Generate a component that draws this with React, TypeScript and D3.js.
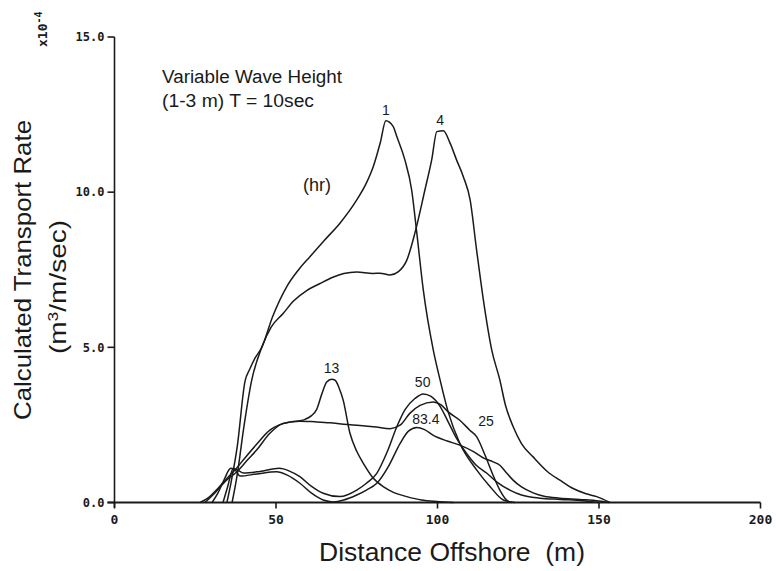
import React from "react";
import * as d3 from "d3";

// ---- data (distance offshore m, transport rate x1e-4 m3/m/sec) ----
const xTicks = [0, 50, 100, 150, 200];
const yTicks = [0, 5, 10, 15];
const yTickLabels = ["0.0", "5.0", "10.0", "15.0"];

const hr1: [number, number][] = [
  [34.8, 0], [36, 0.6], [38, 1.8], [40.4, 3.9], [41.9, 4.3], [43.5, 4.65], [45.6, 5.0],
  [49, 6.0], [53.3, 6.95], [57, 7.5], [60.5, 7.92], [65, 8.45], [69.8, 9.0], [75, 9.75],
  [78, 10.3], [80.1, 10.82], [82.3, 11.6], [84, 12.3], [86.3, 12.11], [87.4, 11.79],
  [89.9, 11.04], [92, 10.07], [93.6, 8.68], [95.6, 6.85], [98.7, 4.91], [100.8, 3.95],
  [103.3, 2.92], [106.9, 1.91], [112.1, 1.05], [116.3, 0.51], [120.4, 0.08], [124, 0],
];
const hr4: [number, number][] = [
  [36.4, 0], [38, 0.9], [40, 2.4], [42.5, 3.95], [45.6, 5.0], [48.5, 5.65], [52.2, 6.09],
  [55.5, 6.5], [59.5, 6.83], [63.5, 7.05], [67.6, 7.26], [71, 7.38], [75, 7.43], [80, 7.38],
  [82.2, 7.39], [85.3, 7.33], [87.9, 7.44], [90.5, 7.81], [93, 8.68], [96.1, 10.07],
  [98.2, 11.04], [99.8, 11.95], [101.8, 11.98], [103.9, 11.58], [105.9, 11.04], [108, 10.5],
  [110.1, 9.75], [112.1, 8.14], [114.2, 6.53], [116.8, 4.91], [119.3, 3.95], [121, 3.15],
  [123.4, 2.45], [126, 1.9], [129.6, 1.47], [134, 1.0], [137.9, 0.72], [142, 0.45],
  [146, 0.28], [149.3, 0.19], [153.4, 0],
];
const hr13: [number, number][] = [
  [26.5, 0], [29, 0.15], [32, 0.45], [35, 0.8], [37.3, 1.05], [40.5, 1.45], [43.8, 1.85],
  [48.1, 2.33], [51, 2.5], [54.3, 2.59], [57, 2.63], [59, 2.68], [61, 2.8], [62.6, 3.0],
  [64.2, 3.5], [65.7, 3.88], [67.2, 3.97], [68.3, 3.94], [69.5, 3.7], [70.8, 3.3],
  [72.9, 2.23], [75, 1.65], [77, 1.27], [80, 0.8], [83.2, 0.51], [86.5, 0.32], [90.5, 0.19],
  [95, 0.08], [99.8, 0.03], [105, 0],
];
const hr25: [number, number][] = [
  [28, 0], [31, 0.3], [34.5, 0.7], [38, 1.0], [41, 1.35], [44, 1.69], [48.1, 2.23],
  [52.3, 2.55], [57.4, 2.62], [62, 2.6], [66.7, 2.57], [71, 2.52], [76, 2.48], [81, 2.43],
  [85.3, 2.38], [88.4, 2.49], [91.5, 2.88], [94.6, 3.13], [98.7, 3.24], [101, 3.15],
  [103.3, 2.92], [106.9, 2.65], [110, 2.33], [112.1, 2.12], [114.7, 1.53], [117.2, 0.88],
  [119.3, 0.4], [121.4, 0.08], [123, 0],
];
const hr50: [number, number][] = [
  [30.2, 0], [32, 0.3], [34, 0.75], [36, 1.1], [38, 1.05], [40, 0.95], [45, 1.0], [51, 1.1],
  [54, 1.02], [57.4, 0.83], [61, 0.52], [64.6, 0.3], [69.8, 0.19], [75, 0.4], [78, 0.62],
  [81.2, 0.94], [84.5, 1.65], [87.4, 2.44], [90, 3.0], [93, 3.35], [95.6, 3.5], [98, 3.42],
  [100.8, 3.1], [103.3, 2.6], [106, 2.05], [109, 1.58], [112, 1.2], [115.2, 0.95],
  [118.5, 0.65], [122.4, 0.4], [126, 0.24], [131.7, 0.14], [138, 0.1], [145, 0.06], [150, 0],
];
const hr83: [number, number][] = [
  [33.6, 0], [35, 0.5], [36.8, 1.1], [38.9, 0.85], [44, 0.92], [50.2, 0.99], [53.5, 0.88],
  [57.4, 0.62], [61, 0.3], [64.6, 0.08], [67.7, 0.02], [71, 0.08], [75, 0.24], [78, 0.4],
  [81.2, 0.62], [85, 1.2], [88.4, 1.9], [91, 2.3], [93.6, 2.42], [96, 2.35], [98.6, 2.17],
  [103, 1.98], [106.9, 1.85], [111, 1.65], [114.5, 1.42], [117.2, 1.31], [119.3, 1.2],
  [121, 1.0], [123.4, 0.72], [126, 0.5], [129.6, 0.31], [133, 0.2], [137.9, 0.14],
  [144, 0.1], [150, 0.05], [153, 0],
];
const seriesList = [hr1, hr4, hr13, hr25, hr50, hr83];

const curveLabels = ["1", "4", "13", "50", "83.4", "25"];
const curveLabelX = [84, 100.8, 67.2, 95.4, 96.4, 115];
const curveLabelY = [12.49, 12.17, 4.17, 3.71, 2.53, 2.45];

export default function App() {
  const x = d3.scaleLinear().domain([0, 200]).range([114.5, 760.5]);
  const y = d3.scaleLinear().domain([0, 15]).range([502.5, 37]);
  const line = d3
    .line<[number, number]>()
    .x((d) => x(d[0]))
    .y((d) => y(d[1]))
    .curve(d3.curveMonotoneX);

  const ink = "#1a1a1a";
  const tickFont = "'DejaVu Sans Mono', monospace";
  const textFont = "'Liberation Sans', Arial, sans-serif";

  return (
    <svg
      width={776}
      height={571}
      style={{ position: "absolute", left: 0, top: 0, background: "#fff" }}
    >
      <rect x={0} y={0} width={776} height={571} fill="#fff" />
      {/* axes */}
      <line x1={x(0)} x2={x(0)} y1={y(0) + 5} y2={y(15)} stroke={ink} strokeWidth={1.6} />
      <line x1={x(0) - 7} x2={x(200)} y1={y(0)} y2={y(0)} stroke={ink} strokeWidth={1.8} />
      {yTicks.map((t, i) => (
        <g key={"yt" + t}>
          <line x1={x(0) - 7} x2={x(0)} y1={y(t)} y2={y(t)} stroke={ink} strokeWidth={1.6} />
          <text
            x={x(0) - 10}
            y={y(t)}
            dy="0.35em"
            textAnchor="end"
            fontFamily={tickFont}
            fontWeight="bold"
            fontSize={12}
            fill={ink}
          >
            {yTickLabels[i]}
          </text>
        </g>
      ))}
      {xTicks.map((t) => (
        <g key={"xt" + t}>
          <line x1={x(t)} x2={x(t)} y1={y(0)} y2={y(0) + 6} stroke={ink} strokeWidth={1.6} />
          <text
            x={x(t)}
            y={y(0) + 21}
            textAnchor="middle"
            fontFamily={tickFont}
            fontWeight="bold"
            fontSize={13}
            fill={ink}
          >
            {t}
          </text>
        </g>
      ))}

      {/* exponent */}
      <text
        transform="translate(47,47) rotate(-90)"
        fontFamily={tickFont}
        fontWeight="bold"
        fontSize={13}
        fill={ink}
      >
        x10
        <tspan dy={-5} fontSize={10}>-4</tspan>
      </text>

      {/* y title */}
      <text
        transform="translate(31,270) rotate(-90)"
        textAnchor="middle"
        fontFamily={textFont}
        fontSize={24}
        fill={ink}
        textLength={300}
        lengthAdjust="spacingAndGlyphs"
      >
        Calculated Transport Rate
      </text>
      <text
        transform="translate(66,287) rotate(-90)"
        textAnchor="middle"
        fontFamily={textFont}
        fontSize={24}
        fill={ink}
        textLength={134}
        lengthAdjust="spacingAndGlyphs"
      >
        (m<tspan dy={-8} fontSize={15}>3</tspan>
        <tspan dy={8}>/m/sec)</tspan>
      </text>

      {/* x title */}
      <text
        x={452}
        y={561}
        textAnchor="middle"
        fontFamily={textFont}
        fontSize={26}
        fill={ink}
        textLength={266}
        lengthAdjust="spacingAndGlyphs"
        style={{ whiteSpace: "pre" }}
      >
        {"Distance Offshore  (m)"}
      </text>

      {/* annotation */}
      <text x={162} y={83} fontFamily={textFont} fontSize={18} fill={ink}
        textLength={180} lengthAdjust="spacingAndGlyphs">
        Variable Wave Height
      </text>
      <text x={162} y={107} fontFamily={textFont} fontSize={18} fill={ink}
        textLength={152} lengthAdjust="spacingAndGlyphs">
        (1-3 m) T = 10sec
      </text>
      <text x={303} y={191} fontFamily={textFont} fontSize={18} fill={ink}>
        (hr)
      </text>

      {/* curves */}
      {seriesList.map((s, i) => (
        <path key={"s" + i} d={line(s) || ""} fill="none" stroke={ink} strokeWidth={1.5} />
      ))}

      {/* curve labels */}
      {curveLabels.map((l, i) => (
        <text
          key={"cl" + i}
          x={x(curveLabelX[i])}
          y={y(curveLabelY[i])}
          textAnchor="middle"
          fontFamily={textFont}
          fontSize={14}
          fill={ink}
        >
          {l}
        </text>
      ))}
    </svg>
  );
}
